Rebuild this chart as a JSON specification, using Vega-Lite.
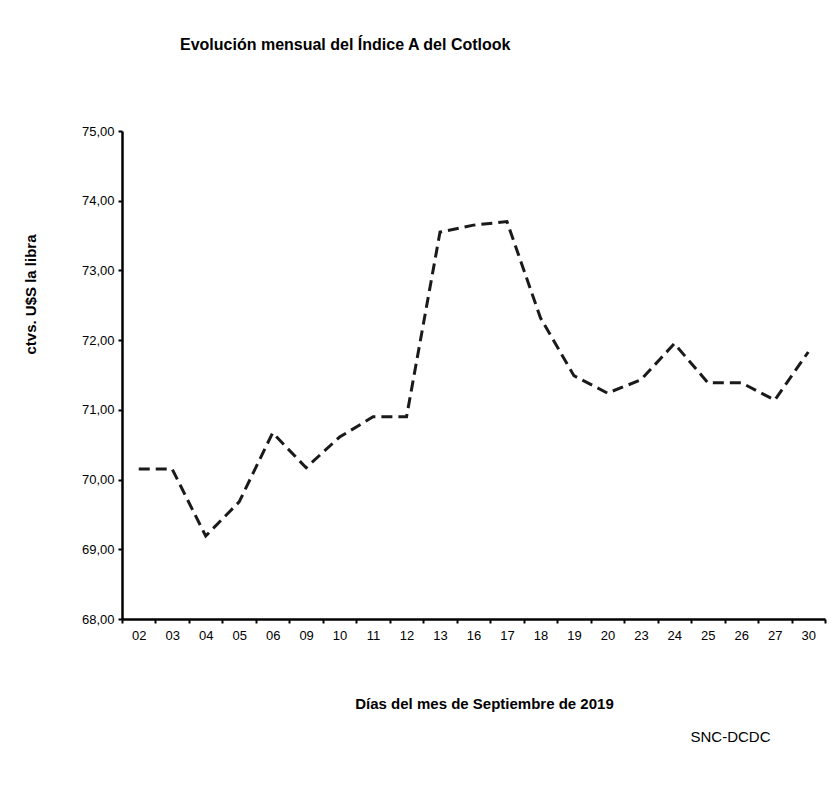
{
  "$schema": "https://vega.github.io/schema/vega-lite/v6.json",
  "autosize": {"type": "none"},
  "width": 703,
  "height": 488,
  "padding": {"left": 122, "top": 131, "right": 7, "bottom": 168},
  "background": "white",
  "config": {
    "view": {"stroke": null},
    "font": "Liberation Sans"
  },
  "title": {
    "text": "Evolución mensual del Índice A del Cotlook",
    "anchor": "start",
    "frame": "group",
    "dx": 58,
    "offset": 72,
    "font": "Liberation Sans",
    "fontSize": 16,
    "fontWeight": "bold",
    "color": "#000000"
  },
  "data": {
    "values": [
      {"dia": "02", "indice": 70.15},
      {"dia": "03", "indice": 70.15},
      {"dia": "04", "indice": 69.19},
      {"dia": "05", "indice": 69.68},
      {"dia": "06", "indice": 70.67},
      {"dia": "09", "indice": 70.17},
      {"dia": "10", "indice": 70.61},
      {"dia": "11", "indice": 70.9},
      {"dia": "12", "indice": 70.9},
      {"dia": "13", "indice": 73.55},
      {"dia": "16", "indice": 73.65},
      {"dia": "17", "indice": 73.7},
      {"dia": "18", "indice": 72.32},
      {"dia": "19", "indice": 71.49},
      {"dia": "20", "indice": 71.24},
      {"dia": "23", "indice": 71.43},
      {"dia": "24", "indice": 71.95},
      {"dia": "25", "indice": 71.39},
      {"dia": "26", "indice": 71.39},
      {"dia": "27", "indice": 71.14},
      {"dia": "30", "indice": 71.83}
    ]
  },
  "resolve": {"axis": {"x": "independent"}},
  "layer": [
    {
      "mark": {"type": "line", "color": "#1a1a1a", "strokeWidth": 3, "strokeDash": [11, 6]},
      "encoding": {
        "x": {
          "field": "dia",
          "type": "ordinal",
          "scale": {"type": "band", "paddingInner": 0, "paddingOuter": 0},
          "axis": {
            "orient": "bottom",
            "title": "Días del mes de Septiembre de 2019",
            "titleFont": "Liberation Sans",
            "titleFontSize": 15,
            "titleFontWeight": "bold",
            "titleColor": "#000000",
            "titleX": 362,
            "titleY": 84,
            "titleBaseline": "middle",
            "titleAlign": "center",
            "labelAngle": 0,
            "labelFont": "Liberation Sans",
            "labelFontSize": 13,
            "labelColor": "#000000",
            "labelPadding": 6,
            "domainColor": "#000000",
            "domainWidth": 2.5,
            "tickColor": "#000000",
            "tickWidth": 2,
            "tickSize": 4,
            "tickBand": "extent",
            "grid": false
          }
        },
        "y": {
          "field": "indice",
          "type": "quantitative",
          "scale": {"domain": [68, 75], "nice": false, "zero": false},
          "axis": {
            "title": "ctvs. U$S la libra",
            "titleFont": "Liberation Sans",
            "titleFontSize": 15,
            "titleFontWeight": "bold",
            "titleColor": "#000000",
            "titleX": -92,
            "titleY": 163,
            "titleAlign": "center",
            "titleBaseline": "middle",
            "titleAngle": -90,
            "values": [68, 69, 70, 71, 72, 73, 74, 75],
            "labelExpr": "replace(format(datum.value, '.2f'), '.', ',')",
            "labelFont": "Liberation Sans",
            "labelFontSize": 13,
            "labelColor": "#000000",
            "labelPadding": 4,
            "domainColor": "#000000",
            "domainWidth": 2.5,
            "tickColor": "#000000",
            "tickWidth": 2,
            "tickSize": 4,
            "grid": false
          }
        }
      }
    },
    {
      "mark": {"type": "line", "strokeOpacity": 0},
      "encoding": {
        "x": {
          "field": "dia",
          "type": "ordinal",
          "scale": {"type": "band", "paddingInner": 0, "paddingOuter": 0},
          "axis": {
            "orient": "top",
            "title": "SNC-DCDC",
            "titleFont": "Liberation Sans",
            "titleFontSize": 15,
            "titleFontWeight": "normal",
            "titleColor": "#000000",
            "titleX": 608,
            "titleY": 605,
            "titleBaseline": "middle",
            "titleAlign": "center",
            "labels": false,
            "ticks": false,
            "domain": false,
            "grid": false
          }
        },
        "y": {"field": "indice", "type": "quantitative"}
      }
    }
  ]
}
